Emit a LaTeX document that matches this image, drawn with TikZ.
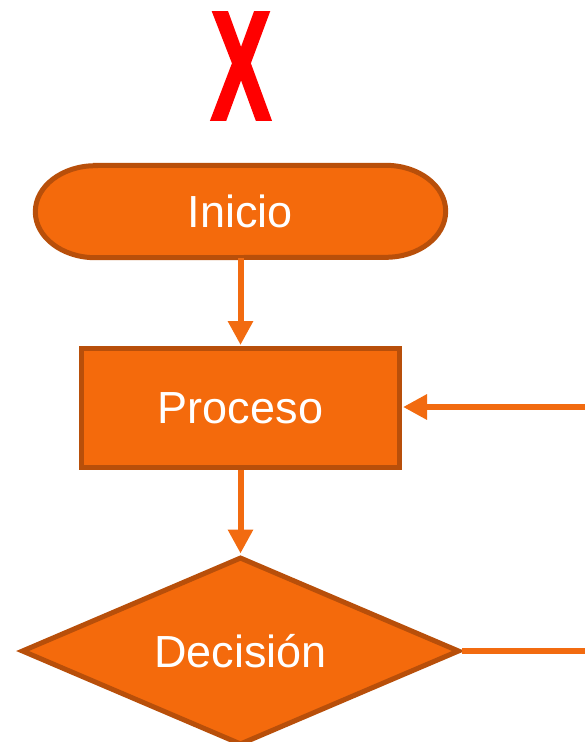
\documentclass[tikz,border=0pt]{standalone}
\usepackage{fontspec}
\setmainfont{Liberation Sans}
\newfontfamily\markfont[FakeBold=2.5]{Liberation Sans Bold}
\usetikzlibrary{arrows.meta,shapes.geometric}
\definecolor{flowfill}{HTML}{F46A0C}
\definecolor{flowedge}{HTML}{B84F0A}
\definecolor{flowline}{HTML}{F26B10}
\definecolor{markred}{HTML}{FF0000}
\tikzset{
  label text/.style={text=white,font=\fontsize{45}{45}\selectfont,inner sep=0pt},
  boxshape/.style={draw=flowedge,fill=flowfill,line width=5pt},
  flowarrow/.style={draw=flowline,line width=6pt,-{Triangle[length=24pt,width=24pt]}},
  flowline/.style={draw=flowline,line width=6pt}
}
\begin{document}
\begin{tikzpicture}[x=1pt,y=1pt]
\useasboundingbox (0,0) rectangle (585,-742);

% red mark at the top
\node[text=markred,inner sep=0pt] (mark) at (241,-66)
  {\scalebox{0.58}[1]{\fontsize{154}{154}\markfont X}};

% start terminator with elliptical ends
\node[minimum width=410pt,minimum height=92pt,inner sep=0pt] (inicio) at (240.5,-211.5) {};
\path[boxshape]
  ([xshift=60pt]inicio.north west) -- ([xshift=-60pt]inicio.north east)
  arc[start angle=90,end angle=-90,x radius=60pt,y radius=46pt]
  -- ([xshift=60pt]inicio.south west)
  arc[start angle=270,end angle=90,x radius=60pt,y radius=46pt] -- cycle;
\node[label text] at (inicio.center) {Inicio};

% process box
\node[boxshape,rectangle,minimum width=318pt,minimum height=119pt,label text] (proceso) at (240.5,-408) {Proceso};

% decision diamond
\node[boxshape,diamond,aspect=2.34,minimum width=438pt,minimum height=188pt,inner sep=0pt,label text] (decision) at (240.5,-651) {Decisión};

% loop end points at the right margin
\coordinate (loopin) at (585,-407);
\coordinate (loopout) at (585,-651);

% connectors
\draw[flowarrow,shorten >=1pt] (inicio.south) -- (proceso.north);
\draw[flowarrow,shorten >=1pt] (proceso.south) -- (decision.north);
\draw[flowarrow,shorten >=1pt] (loopin) -- (loopin -| proceso.east);
\draw[flowline] (decision.east) -- (loopout);
\end{tikzpicture}
\end{document}
